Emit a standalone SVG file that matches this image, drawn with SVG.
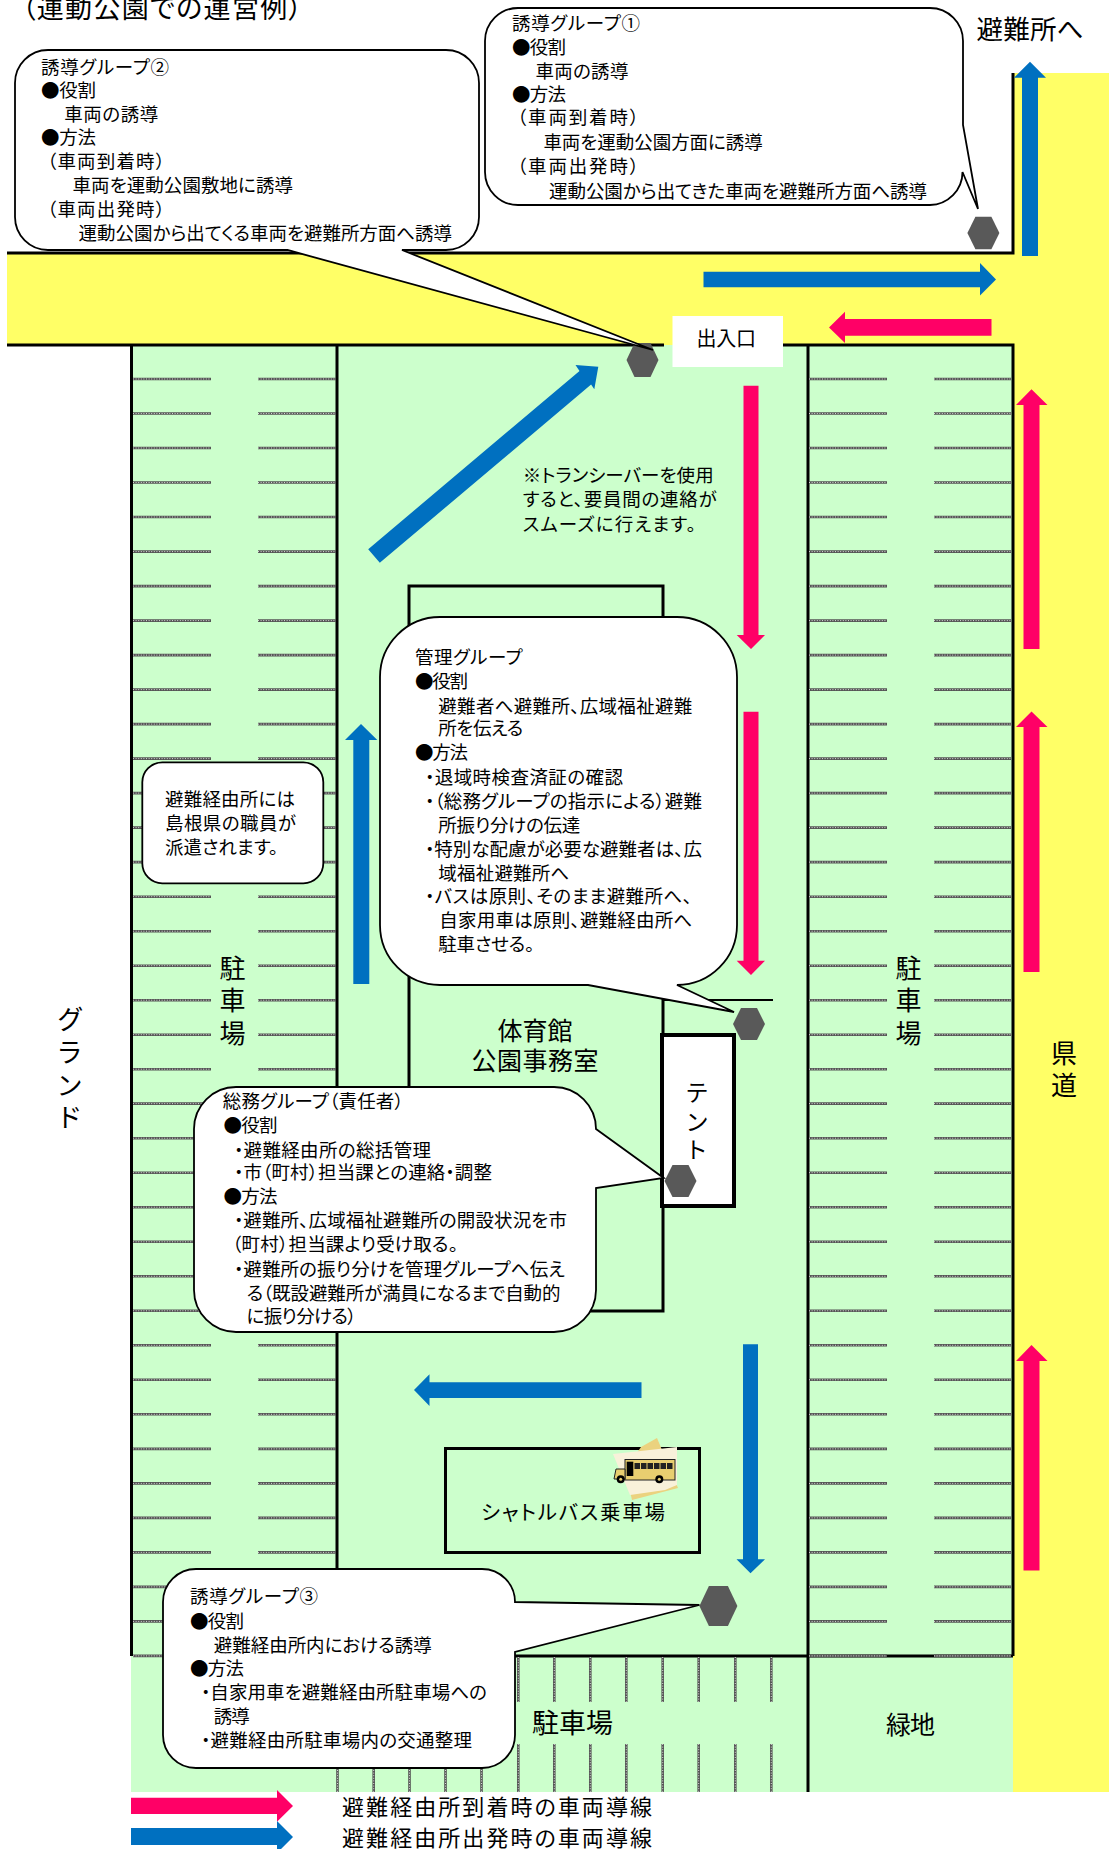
<svg xmlns="http://www.w3.org/2000/svg" width="1109" height="1849" viewBox="0 0 1109 1849">
<style>
text{font-family:"Noto Sans CJK JP","Noto Sans",sans-serif;fill:#000;font-feature-settings:"palt"}
.b{font-size:18.5px}
.l{font-size:26px;text-anchor:middle}
.ln{fill:none;stroke:#000;stroke-width:3}
.bub{fill:#fff;stroke:#000;stroke-width:1.8}
.hex{fill:#595959}
.pk{fill:#FF0066}
.bl{fill:#0070C0}
.g1{fill:none;stroke:#555;stroke-width:2.6}
.g2{fill:none;stroke:#e8e8e8;stroke-width:0.9;stroke-dasharray:1 1.6}
</style>
<defs>
<g id="row">
<path class="g1" d="M133 0H211M258 0H336M809 0H887M934 0H1011"/>
<path class="g2" d="M133 0H211M258 0H336M809 0H887M934 0H1011"/>
</g>
<g id="st">
<path class="g1" d="M0 1657V1702M0 1744V1792"/>
<path class="g2" d="M0 1657V1702M0 1744V1792"/>
</g>
</defs>
<rect width="1109" height="1849" fill="#fff"/>
<g id="ground">
<rect x="7" y="253" width="1102" height="92" fill="#FFFF66"/>
<rect x="1013" y="73" width="96" height="1719" fill="#FFFF66"/>
<rect x="131" y="345" width="882" height="1447" fill="#CCFFCC"/>
<path class="ln" d="M7 253H1013V73M7 345H664M783 345H1013V1656M131.500 345V1656M337 345V1656M808 345V1792M515 1656H1013"/>
</g>
<g id="parking">
<use href="#row" y="379"/><use href="#row" y="413.5"/><use href="#row" y="448"/><use href="#row" y="482.5"/><use href="#row" y="517"/><use href="#row" y="551.600"/><use href="#row" y="586.100"/><use href="#row" y="620.600"/><use href="#row" y="655.100"/><use href="#row" y="689.600"/><use href="#row" y="724.100"/><use href="#row" y="758.600"/><use href="#row" y="793.100"/><use href="#row" y="827.600"/><use href="#row" y="862.100"/><use href="#row" y="896.700"/><use href="#row" y="931.200"/><use href="#row" y="965.700"/><use href="#row" y="1000.200"/><use href="#row" y="1034.700"/><use href="#row" y="1069.200"/><use href="#row" y="1103.600"/><use href="#row" y="1138.200"/><use href="#row" y="1172.700"/><use href="#row" y="1207.200"/><use href="#row" y="1241.800"/><use href="#row" y="1276.300"/><use href="#row" y="1310.800"/><use href="#row" y="1345.300"/><use href="#row" y="1379.800"/><use href="#row" y="1414.300"/><use href="#row" y="1448.900"/><use href="#row" y="1483.400"/><use href="#row" y="1517.900"/><use href="#row" y="1552.400"/><use href="#row" y="1586.900"/><use href="#row" y="1621.400"/><use href="#row" y="1655.900"/>
<use href="#st" x="337.500"/><use href="#st" x="373.700"/><use href="#st" x="409.500"/><use href="#st" x="445.500"/><use href="#st" x="481.500"/><use href="#st" x="518.300"/><use href="#st" x="554.300"/><use href="#st" x="590.300"/><use href="#st" x="626.300"/><use href="#st" x="662.700"/><use href="#st" x="698.700"/><use href="#st" x="735.300"/><use href="#st" x="771.300"/>
</g>
<g id="gym">
<rect class="ln" x="409" y="586" width="254" height="725"/>
<path d="M663 1000H773" fill="none" stroke="#000" stroke-width="2"/>
<text x="535" y="1040" font-size="25" text-anchor="middle">体育館</text>
<text x="535" y="1070" font-size="25" text-anchor="middle" textLength="127" lengthAdjust="spacing">公園事務室</text>
</g>
<g id="tent">
<rect x="662" y="1035" width="72" height="171" fill="#fff" stroke="#000" stroke-width="4"/>
<text x="697" font-size="23" text-anchor="middle"><tspan x="697" y="1101">テ</tspan><tspan x="697" y="1130">ン</tspan><tspan x="697" y="1158">ト</tspan></text>
</g>
<g id="shuttle">
<rect class="ln" x="445.500" y="1448.500" width="254" height="104"/>
<polygon points="641,1447 657,1438 678,1488 632,1500 625,1470" fill="#EBD27F"/>
<polygon points="613,1454 677,1447 677,1485 665,1490 630,1495" fill="#F9F1DA"/>
<rect x="625" y="1459.500" width="50" height="20.500" fill="#E8CE70" stroke="#222" stroke-width="1"/>
<path d="M625 1469H616L614 1479H625Z" fill="#E8CE70" stroke="#222" stroke-width="1"/>
<rect x="626.700" y="1461.700" width="6.600" height="14.300" fill="#000"/>
<path d="M634.500 1463h5.500v6h-5.500zM641 1463h5.500v6h-5.500zM647.500 1463h5.500v6h-5.500zM654 1463h5.500v6h-5.500zM660.500 1463h5.500v6h-5.500zM667 1463h5.500v6h-5.500z" fill="#222"/>
<circle cx="620.700" cy="1479.300" r="4" fill="#000"/><circle cx="620.700" cy="1479.300" r="1.500" fill="#E8CE70"/>
<circle cx="659.300" cy="1479.300" r="4" fill="#000"/><circle cx="659.300" cy="1479.300" r="1.500" fill="#E8CE70"/>
<text x="481" y="1520" font-size="20.500" textLength="184" lengthAdjust="spacing">シャトルバス乗車場</text>
</g>
<g id="connectors">
<polygon class="bl" points="1022,256 1022,77.700 1014,77.700 1030,61.700 1046,77.700 1038,77.700 1038,256"/>
<polygon class="bl" points="703.500,271.700 980,271.700 980,263 996,279.500 980,295.500 980,287.300 703.500,287.300"/>
<polygon class="pk" points="991.500,319 845,319 845,311.700 829,327.500 845,343 845,335.700 991.500,335.700"/>
<polygon class="pk" points="1023.500,649 1023.500,405 1016,405 1031.500,389.300 1047.500,405 1039.500,405 1039.500,649"/>
<polygon class="pk" points="1023.500,972 1023.500,727 1016,727 1031.500,711.500 1047.500,727 1039.500,727 1039.500,972"/>
<polygon class="pk" points="1023.500,1570.500 1023.500,1361 1016,1361 1031.500,1345 1047.500,1361 1039.500,1361 1039.500,1570.500"/>
<polygon class="pk" points="743.500,385.700 758.500,385.700 758.500,635 765,635 751,649 736.700,635 743.500,635"/>
<polygon class="pk" points="743.500,711.700 758.500,711.700 758.500,960.700 765,960.700 751,975 736.700,960.700 743.500,960.700"/>
<polygon class="bl" points="353.300,984 353.300,740 345,740 361,724 377.300,740 369.300,740 369.300,984"/>
<polygon class="bl" points="368.200,549.200 579.500,371 575.500,365 598.300,366.700 594.300,389.300 591.100,384.600 379.800,562.800"/>
<polygon class="bl" points="641.500,1382.300 429.500,1382.300 429.500,1374.300 414,1390 429.500,1406 429.500,1398 641.500,1398"/>
<polygon class="bl" points="743,1344.300 758,1344.300 758,1559.300 765,1559.300 750.500,1573.300 736.500,1559.300 743,1559.300"/>
<polygon class="pk" points="131,1797.700 277,1797.700 277,1790 293,1806 277,1821.700 277,1814 131,1814"/>
<polygon class="bl" points="131,1828 277,1828 277,1821 293,1837 277,1853 277,1845 131,1845"/>
</g>
<g id="markers">
<polygon class="hex" points="967.400,233 975.400,216.700 991.400,216.700 999.400,233 991.400,249.300 975.400,249.300"/>
<polygon class="hex" points="626.500,360 634.500,343 650.500,343 658.500,360 650.500,377 634.500,377"/>
<polygon class="hex" points="733,1024 741,1008 757,1008 765,1024 757,1040 741,1040"/>
<polygon class="hex" points="664.500,1181 672.500,1165 688.500,1165 696.500,1181 688.500,1197 672.500,1197"/>
<polygon class="hex" points="699.400,1606 708.900,1586 727.900,1586 737.400,1606 727.900,1626 708.900,1626"/>
</g>
<g id="group1">
<path class="bub" d="M518,8H930A33,33 0 0 1 963,41V125L978,209L962.500,172A33,33 0 0 1 930,205H518A33,33 0 0 1 485,172V41A33,33 0 0 1 518,8Z"/>
<text class="b" x="512" y="29.500" textLength="128" lengthAdjust="spacing">誘導グループ①</text>
<text class="b" x="512" y="54" textLength="54" lengthAdjust="spacing">●役割</text>
<text class="b" x="535.400" y="78" textLength="93" lengthAdjust="spacing">車両の誘導</text>
<text class="b" x="512" y="101" textLength="54" lengthAdjust="spacing">●方法</text>
<text class="b" x="517" y="124" textLength="122" lengthAdjust="spacing">（車両到着時）</text>
<text class="b" x="543.400" y="148.500" textLength="219.400" lengthAdjust="spacing">車両を運動公園方面に誘導</text>
<text class="b" x="517" y="172.500" textLength="122" lengthAdjust="spacing">（車両出発時）</text>
<text class="b" x="549" y="197.500" textLength="378" lengthAdjust="spacing">運動公園から出てきた車両を避難所方面へ誘導</text>
</g>
<g id="group2">
<path class="bub" d="M48,50H446A33,33 0 0 1 479,83V217A33,33 0 0 1 446,250H402L653,350L287.500,250H48A33,33 0 0 1 15,217V83A33,33 0 0 1 48,50Z"/>
<text class="b" x="41" y="73.500" textLength="128" lengthAdjust="spacing">誘導グループ②</text>
<text class="b" x="41" y="97" textLength="55" lengthAdjust="spacing">●役割</text>
<text class="b" x="64.300" y="121" textLength="94" lengthAdjust="spacing">車両の誘導</text>
<text class="b" x="41" y="144" textLength="55" lengthAdjust="spacing">●方法</text>
<text class="b" x="47" y="168" textLength="118" lengthAdjust="spacing">（車両到着時）</text>
<text class="b" x="72.500" y="192" textLength="220.500" lengthAdjust="spacing">車両を運動公園敷地に誘導</text>
<text class="b" x="47" y="216" textLength="118" lengthAdjust="spacing">（車両出発時）</text>
<text class="b" x="78.600" y="240" textLength="373.400" lengthAdjust="spacing">運動公園から出てくる車両を避難所方面へ誘導</text>
</g>
<g id="group-manage">
<path class="bub" d="M440,617H677A60,60 0 0 1 737,677V925A60,60 0 0 1 677,985L734,1012L588,985H440A60,60 0 0 1 380,925V677A60,60 0 0 1 440,617Z"/>
<text class="b" x="415" y="664" textLength="107.700" lengthAdjust="spacing">管理グループ</text>
<text class="b" x="415" y="688" textLength="53" lengthAdjust="spacing">●役割</text>
<text class="b" x="438.300" y="712.500" textLength="254" lengthAdjust="spacing">避難者へ避難所、広域福祉避難</text>
<text class="b" x="438.300" y="735" textLength="85" lengthAdjust="spacing">所を伝える</text>
<text class="b" x="415" y="759" textLength="53" lengthAdjust="spacing">●方法</text>
<text class="b" x="425" y="784" textLength="198" lengthAdjust="spacing">・退域時検査済証の確認</text>
<text class="b" x="425" y="808" textLength="277" lengthAdjust="spacing">・（総務グループの指示による）避難</text>
<text class="b" x="438.300" y="831.500" textLength="142" lengthAdjust="spacing">所振り分けの伝達</text>
<text class="b" x="425" y="855.500" textLength="277" lengthAdjust="spacing">・特別な配慮が必要な避難者は、広</text>
<text class="b" x="438.300" y="880" textLength="131" lengthAdjust="spacing">域福祉避難所へ</text>
<text class="b" x="425" y="903" textLength="267" lengthAdjust="spacing">・バスは原則、そのまま避難所へ、</text>
<text class="b" x="439.300" y="927" textLength="253" lengthAdjust="spacing">自家用車は原則、避難経由所へ</text>
<text class="b" x="438.300" y="951" textLength="96" lengthAdjust="spacing">駐車させる。</text>
</g>
<g id="group-general">
<path class="bub" d="M236,1087H554A42,42 0 0 1 596,1129L663.700,1178L596,1188V1290A42,42 0 0 1 554,1332H236A42,42 0 0 1 194,1290V1129A42,42 0 0 1 236,1087Z"/>
<text class="b" x="222.800" y="1108" textLength="181" lengthAdjust="spacing">総務グループ（責任者）</text>
<text class="b" x="223.600" y="1132" textLength="54" lengthAdjust="spacing">●役割</text>
<text class="b" x="234" y="1156.500" textLength="197" lengthAdjust="spacing">・避難経由所の総括管理</text>
<text class="b" x="234" y="1179" textLength="258" lengthAdjust="spacing">・市（町村）担当課との連絡・調整</text>
<text class="b" x="223.600" y="1203" textLength="54" lengthAdjust="spacing">●方法</text>
<text class="b" x="234" y="1227" textLength="333" lengthAdjust="spacing">・避難所、広域福祉避難所の開設状況を市</text>
<text class="b" x="232" y="1251" textLength="226" lengthAdjust="spacing">（町村）担当課より受け取る。</text>
<text class="b" x="234" y="1275.500" textLength="331" lengthAdjust="spacing">・避難所の振り分けを管理グループへ伝え</text>
<text class="b" x="246.500" y="1299.500" textLength="314" lengthAdjust="spacing">る（既設避難所が満員になるまで自動的</text>
<text class="b" x="246.500" y="1323" textLength="110" lengthAdjust="spacing">に振り分ける）</text>
</g>
<g id="group3">
<path class="bub" d="M196,1569H482A33,33 0 0 1 515,1602L699.400,1605L515,1652V1735A33,33 0 0 1 482,1768H196A33,33 0 0 1 163,1735V1602A33,33 0 0 1 196,1569Z"/>
<text class="b" x="190" y="1603" textLength="128" lengthAdjust="spacing">誘導グループ③</text>
<text class="b" x="190" y="1628" textLength="54" lengthAdjust="spacing">●役割</text>
<text class="b" x="213.700" y="1651.500" textLength="218" lengthAdjust="spacing">避難経由所内における誘導</text>
<text class="b" x="190" y="1675" textLength="54" lengthAdjust="spacing">●方法</text>
<text class="b" x="201" y="1699" textLength="286" lengthAdjust="spacing">・自家用車を避難経由所駐車場への</text>
<text class="b" x="213.700" y="1723" textLength="36" lengthAdjust="spacing">誘導</text>
<text class="b" x="201" y="1746.700" textLength="271" lengthAdjust="spacing">・避難経由所駐車場内の交通整理</text>
</g>
<g id="note-staff">
<rect class="bub" x="142.300" y="762.300" width="181" height="121" rx="20"/>
<text class="b" x="165" y="806" textLength="130" lengthAdjust="spacing">避難経由所には</text>
<text class="b" x="165" y="830" textLength="131" lengthAdjust="spacing">島根県の職員が</text>
<text class="b" x="165" y="854" textLength="113" lengthAdjust="spacing">派遣されます。</text>
</g>
<g id="entrance">
<rect x="672.500" y="316" width="110.500" height="51" fill="#fff"/>
<text x="696.600" y="346" font-size="20" textLength="59.400" lengthAdjust="spacing">出入口</text>
</g>
<g id="labels">
<text x="22" y="18" font-size="27" textLength="280" lengthAdjust="spacing">（運動公園での運営例）</text>
<text x="976.600" y="39" font-size="26.500" textLength="107" lengthAdjust="spacing">避難所へ</text>
<text class="b" x="522.700" y="482" textLength="191" lengthAdjust="spacing">※トランシーバーを使用</text>
<text class="b" x="522.700" y="506" textLength="194" lengthAdjust="spacing">すると、要員間の連絡が</text>
<text class="b" x="522.700" y="531" textLength="173" lengthAdjust="spacing">スムーズに行えます。</text>
<text class="l"><tspan x="232.500" y="978">駐</tspan><tspan x="232.500" y="1010">車</tspan><tspan x="232.500" y="1043">場</tspan></text>
<text class="l"><tspan x="908.600" y="978">駐</tspan><tspan x="908.600" y="1010">車</tspan><tspan x="908.600" y="1043">場</tspan></text>
<text class="l"><tspan x="69.600" y="1029">グ</tspan><tspan x="69.600" y="1062">ラ</tspan><tspan x="69.600" y="1095">ン</tspan><tspan x="69.600" y="1127">ド</tspan></text>
<text class="l"><tspan x="1064" y="1063">県</tspan><tspan x="1064" y="1095">道</tspan></text>
<text x="532" y="1733" font-size="27" textLength="81" lengthAdjust="spacing">駐車場</text>
<text x="886" y="1734" font-size="25" textLength="49" lengthAdjust="spacing">緑地</text>
<text x="342" y="1815" font-size="22" textLength="310" lengthAdjust="spacing">避難経由所到着時の車両導線</text>
<text x="342" y="1846" font-size="22" textLength="310" lengthAdjust="spacing">避難経由所出発時の車両導線</text>
</g>
</svg>
